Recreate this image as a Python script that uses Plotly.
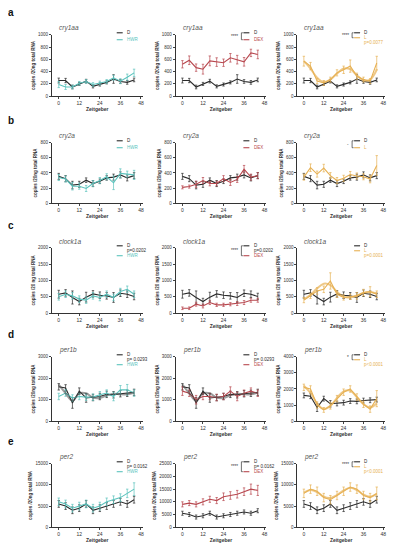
import plotly.graph_objects as go

OFF = 8  # page body margin of the browser
W, H = 395 - OFF, 550 - OFF
T = [0, 4, 8, 12, 16, 20, 24, 28, 32, 36, 40, 44]
X_TICKS = [0, 12, 24, 36, 48]
GENES = ["cry1aa", "cry2a", "clock1a", "per1b", "per2"]
ROW_LETTERS = ["a", "b", "c", "d", "e"]
Y_MAX = [[1000, 1000, 1000], [800, 800, 800], [2000, 2000, 2000], [3000, 3000, 4000], [15000, 25000, 15000]]
Y_DTICK = [[200] * 3, [200] * 3, [500] * 3, [1000] * 3, [5000] * 3]
Y_TITLES = ["copies /20ng total RNA", "copies /20ng total RNA", "copies /20 ng total RNA",
            "copies /20ng total RNA", "copies /20ng total RNA"]

# ---- data ----
CRY1AA_D = [255, 255, 150, 200, 245, 160, 190, 225, 280, 240, 225, 265]
CRY1AA_D_ERR = [40, 35, 30, 25, 30, 25, 25, 25, 70, 30, 30, 30]
CRY1AA_HWR = [190, 150, 150, 210, 240, 190, 215, 240, 300, 245, 310, 380]
CRY1AA_HWR_ERR = [50, 40, 30, 30, 30, 30, 30, 30, 40, 40, 50, 60]
CRY1AA_DEX = [520, 585, 465, 440, 575, 555, 545, 625, 595, 560, 705, 680]
CRY1AA_DEX_ERR = [60, 70, 60, 80, 80, 70, 60, 70, 70, 70, 60, 70]
CRY1AA_L = [570, 490, 245, 215, 270, 380, 430, 490, 325, 270, 245, 540]
CRY1AA_L_ERR = [80, 60, 40, 40, 40, 50, 60, 100, 50, 40, 40, 110]
CRY1AA_L_FIT = [570, 450, 300, 230, 270, 370, 450, 440, 340, 260, 270, 430]

CRY2A_D = [355, 325, 240, 250, 305, 260, 290, 335, 345, 375, 335, 365]
CRY2A_D_ERR = [40, 40, 50, 40, 30, 40, 30, 30, 40, 40, 40, 40]
CRY2A_HWR = [340, 320, 225, 225, 195, 260, 300, 350, 270, 395, 385, 375]
CRY2A_HWR_ERR = [40, 40, 50, 40, 40, 40, 40, 40, 90, 60, 40, 60]
CRY2A_DEX = [210, 220, 250, 300, 260, 260, 325, 275, 315, 450, 345, 365]
CRY2A_DEX_ERR = [20, 20, 40, 40, 30, 30, 40, 40, 40, 50, 40, 40]
CRY2A_L = [345, 470, 385, 465, 365, 300, 330, 380, 360, 350, 320, 500]
CRY2A_L_ERR = [40, 50, 40, 50, 40, 40, 40, 40, 40, 40, 50, 130]

CLOCK1A_D = [580, 620, 480, 355, 490, 590, 550, 530, 480, 610, 580, 510]
CLOCK1A_D_ERR = [120, 100, 200, 100, 150, 100, 100, 100, 150, 100, 100, 100]
CLOCK1A_HWR = [500, 580, 530, 430, 400, 530, 480, 580, 480, 660, 730, 580]
CLOCK1A_HWR_ERR = [100, 100, 100, 100, 100, 100, 100, 100, 100, 100, 100, 100]
CLOCK1A_DEX = [150, 150, 275, 220, 325, 255, 255, 275, 295, 325, 395, 395]
CLOCK1A_DEX_ERR = [40, 40, 60, 60, 60, 50, 50, 50, 60, 60, 60, 60]
CLOCK1A_L = [400, 530, 680, 730, 985, 580, 480, 500, 530, 630, 660, 580]
CLOCK1A_L_ERR = [80, 80, 100, 100, 250, 100, 80, 80, 100, 100, 150, 100]
CLOCK1A_L_FIT = [420, 560, 760, 900, 860, 650, 500, 480, 540, 620, 650, 600]

PER1B_D = [1600, 1550, 850, 1400, 1080, 1100, 1150, 1250, 1230, 1280, 1300, 1340]
PER1B_D_ERR = [150, 150, 250, 150, 200, 150, 150, 150, 150, 150, 150, 150]
PER1B_D_FIT = [1700, 1300, 950, 1300, 1300, 1100, 1080, 1200, 1280, 1250, 1250, 1320]
PER1B_HWR = [1150, 1310, 1080, 1150, 1120, 1120, 1230, 1310, 1150, 1460, 1460, 1310]
PER1B_HWR_ERR = [150, 150, 150, 150, 150, 150, 150, 150, 200, 200, 250, 150]
PER1B_DEX = [1400, 1300, 1000, 1150, 1150, 1100, 1150, 1400, 1150, 1300, 1400, 1300]
PER1B_DEX_ERR = [200, 150, 200, 150, 150, 150, 150, 200, 200, 150, 150, 150]
PER1B_L = [2100, 2000, 1000, 700, 950, 1400, 1800, 2000, 1500, 1050, 750, 1400]
PER1B_L_ERR = [200, 200, 200, 150, 200, 200, 200, 200, 200, 200, 200, 500]
PER1B_L_FIT = [2200, 1750, 1100, 750, 950, 1450, 1850, 1900, 1500, 1050, 850, 1100]

PER2_D = [5500, 5000, 4000, 4500, 5500, 4000, 4500, 5000, 5500, 6000, 5500, 6500]
PER2_D_ERR = [800, 800, 800, 800, 800, 800, 800, 800, 800, 800, 800, 800]
PER2_HWR = [6000, 5500, 4500, 5000, 5500, 4500, 5000, 6000, 6500, 7000, 8000, 9000]
PER2_HWR_ERR = [900, 900, 900, 900, 900, 900, 900, 900, 900, 900, 1000, 1500]
PER2_DEX = [9000, 9500, 9000, 10000, 11000, 10500, 12000, 12500, 13000, 14000, 15000, 14500]
PER2_DEX_ERR = [1000, 1000, 1000, 1200, 1200, 1200, 1500, 1500, 1500, 1500, 2000, 2000]
PER2_L = [8000, 9000, 8500, 7000, 6500, 7500, 8500, 9500, 9000, 7500, 7000, 8000]
PER2_L_ERR = [1000, 1000, 1000, 1000, 1000, 1000, 1000, 1000, 1000, 1000, 1000, 1500]
PER2_L_FIT = [8200, 8800, 8300, 7200, 6900, 7600, 8700, 9300, 8800, 7700, 7200, 7900]

BLACK = "#2b2b2b"
TEAL = "#5bc3bd"
RED = "#b8484f"
ORANGE = "#e7b154"
ORANGE_FIT = "rgba(231,177,84,0.7)"
BLACK_FIT = "rgba(60,60,60,0.5)"

PANELS = [
    [
        dict(series=[(CRY1AA_D, CRY1AA_D_ERR, BLACK), (CRY1AA_HWR, CRY1AA_HWR_ERR, TEAL)], fits=[],
             legend=[("D", BLACK, True), ("HWR", TEAL, True)], stars=None),
        dict(series=[(CRY1AA_D, CRY1AA_D_ERR, BLACK), (CRY1AA_DEX, CRY1AA_DEX_ERR, RED)], fits=[],
             legend=[("D", BLACK, True), ("DEX", RED, True)], stars="****"),
        dict(series=[(CRY1AA_D, CRY1AA_D_ERR, BLACK), (CRY1AA_L, CRY1AA_L_ERR, ORANGE)],
             fits=[(CRY1AA_L_FIT, ORANGE_FIT)],
             legend=[("D", BLACK, True), ("L", ORANGE, True), ("p=0.0077", ORANGE, False)], stars="****"),
    ],
    [
        dict(series=[(CRY2A_D, CRY2A_D_ERR, BLACK), (CRY2A_HWR, CRY2A_HWR_ERR, TEAL)], fits=[],
             legend=[("D", BLACK, True), ("HWR", TEAL, True)], stars=None),
        dict(series=[(CRY2A_D, CRY2A_D_ERR, BLACK), (CRY2A_DEX, CRY2A_DEX_ERR, RED)], fits=[],
             legend=[("D", BLACK, True), ("DEX", RED, True)], stars=None),
        dict(series=[(CRY2A_D, CRY2A_D_ERR, BLACK), (CRY2A_L, CRY2A_L_ERR, ORANGE)], fits=[],
             legend=[("D", BLACK, True), ("L", ORANGE, True)], stars="-"),
    ],
    [
        dict(series=[(CLOCK1A_D, CLOCK1A_D_ERR, BLACK), (CLOCK1A_HWR, CLOCK1A_HWR_ERR, TEAL)], fits=[],
             legend=[("D", BLACK, True), ("p=0.0202", BLACK, False), ("HWR", TEAL, True)], stars=None),
        dict(series=[(CLOCK1A_D, CLOCK1A_D_ERR, BLACK), (CLOCK1A_DEX, CLOCK1A_DEX_ERR, RED)], fits=[],
             legend=[("D", BLACK, True), ("p=0.0202", BLACK, False), ("DEX", RED, True)], stars="****"),
        dict(series=[(CLOCK1A_D, CLOCK1A_D_ERR, BLACK), (CLOCK1A_L, CLOCK1A_L_ERR, ORANGE)],
             fits=[(CLOCK1A_L_FIT, ORANGE_FIT)],
             legend=[("D", BLACK, True), ("L", ORANGE, True), ("p=0.0001", ORANGE, False)], stars=None),
    ],
    [
        dict(series=[(PER1B_D, PER1B_D_ERR, BLACK), (PER1B_HWR, PER1B_HWR_ERR, TEAL)],
             fits=[(PER1B_D_FIT, BLACK_FIT)],
             legend=[("D", BLACK, True), ("p= 0.0293", BLACK, False), ("HWR", TEAL, True)], stars=None),
        dict(series=[(PER1B_D, PER1B_D_ERR, BLACK), (PER1B_DEX, PER1B_DEX_ERR, RED)],
             fits=[(PER1B_D_FIT, BLACK_FIT)],
             legend=[("D", BLACK, True), ("p= 0.0293", BLACK, False), ("DEX", RED, True)], stars=None),
        dict(series=[(PER1B_D, PER1B_D_ERR, BLACK), (PER1B_L, PER1B_L_ERR, ORANGE)],
             fits=[(PER1B_L_FIT, ORANGE_FIT)],
             legend=[("D", BLACK, True), ("L", ORANGE, True), ("p<0.0001", ORANGE, False)], stars="*"),
    ],
    [
        dict(series=[(PER2_D, PER2_D_ERR, BLACK), (PER2_HWR, PER2_HWR_ERR, TEAL)], fits=[],
             legend=[("D", BLACK, True), ("p= 0.0162", BLACK, False), ("HWR", TEAL, True)], stars=None),
        dict(series=[(PER2_D, PER2_D_ERR, BLACK), (PER2_DEX, PER2_DEX_ERR, RED)], fits=[],
             legend=[("D", BLACK, True), ("p= 0.0162", BLACK, False), ("DEX", RED, True)], stars="****"),
        dict(series=[(PER2_D, PER2_D_ERR, BLACK), (PER2_L, PER2_L_ERR, ORANGE)],
             fits=[(PER2_L_FIT, ORANGE_FIT)],
             legend=[("D", BLACK, True), ("L", ORANGE, True), ("p<0.0001", ORANGE, False)], stars="****"),
    ],
]

# ---- layout geometry (screen pixels) ----
COL_X = [(52, 143), (176, 267), (298, 386)]
ROW_Y = [(33, 95), (142, 203), (248, 314), (358, 423), (466, 530)]
LEG_DX = [(65, 71, 73), (68, 74, 77), (57, 63, 65)]
X_RANGE = [-4, 49]

FONT = "Liberation Sans, Arial, sans-serif"
GRAY = "#333333"


def px(x):
    return (x - OFF) / W


def py(y):
    return 1 - (y - OFF) / H


fig = go.Figure()
layout = dict(width=W, height=H, margin=dict(l=0, r=0, t=0, b=0),
              paper_bgcolor="white", plot_bgcolor="white", showlegend=False,
              font=dict(family=FONT, color=GRAY))
annotations = []
shapes = []

for r in range(5):
    for c in range(3):
        n = r * 3 + c + 1
        xs = "x" if n == 1 else f"x{n}"
        ys = "y" if n == 1 else f"y{n}"
        x0, x1 = COL_X[c]
        y0, y1 = ROW_Y[r]
        p = PANELS[r][c]
        for vals, errs, col in p["series"]:
            fig.add_trace(go.Scatter(
                x=T, y=vals, xaxis=xs, yaxis=ys, mode="lines",
                line=dict(color=col, width=1.1),
                error_y=dict(type="data", array=errs, color=col, thickness=0.7, width=1.2),
                hoverinfo="skip"))
        for vals, col in p["fits"]:
            fig.add_trace(go.Scatter(
                x=T, y=vals, xaxis=xs, yaxis=ys, mode="lines",
                line=dict(color=col, width=2.0, shape="spline", smoothing=1.0),
                hoverinfo="skip"))
        layout["xaxis" if n == 1 else f"xaxis{n}"] = dict(
            domain=[px(x0), px(x1)], anchor=ys, range=X_RANGE,
            tickvals=X_TICKS, ticks="outside", ticklen=2, tickwidth=0.8,
            ticklabeloverflow="allow",
            showline=True, linecolor=GRAY, linewidth=0.9, showgrid=False, zeroline=False,
            tickfont=dict(size=5, family=FONT, color=GRAY),
            title=dict(text="<b>Zeitgeber</b>", font=dict(size=5, color=GRAY), standoff=1))
        ymax = Y_MAX[r][c]
        layout["yaxis" if n == 1 else f"yaxis{n}"] = dict(
            domain=[py(y1), py(y0)], anchor=xs, range=[0, ymax],
            dtick=Y_DTICK[r][c], tickformat="d", ticks="outside", ticklen=2, tickwidth=0.8,
            showline=True, linecolor=GRAY, linewidth=0.9, showgrid=False, zeroline=False,
            tickfont=dict(size=4.5, family=FONT, color=GRAY),
            title=dict(text=f"<b>{Y_TITLES[r]}</b>", font=dict(size=4.5, color=GRAY), standoff=2))
        annotations.append(dict(x=px(x0 + 5), y=py(y0 - 1), xref="paper", yref="paper",
                                text=f"<i>{GENES[r]}</i>", showarrow=False,
                                xanchor="left", yanchor="bottom",
                                font=dict(size=6.5, color="#555555", family=FONT)))
        lx1, lx2, tx = LEG_DX[c]
        entries = p["legend"]
        if len(entries) == 2:
            ypos = [y0 - 2, y0 + 5]
        else:
            ypos = [y0 - 2, y0 + 3, y0 + 8]
        line_ys = []
        for (label, col, has_line), yy in zip(entries, ypos):
            if has_line:
                shapes.append(dict(type="line", xref="paper", yref="paper",
                                   x0=px(x0 + lx1), x1=px(x0 + lx2), y0=py(yy), y1=py(yy),
                                   line=dict(color=col, width=1.1)))
                line_ys.append(yy)
            annotations.append(dict(x=px(x0 + tx), y=py(yy), xref="paper", yref="paper",
                                    text=label, showarrow=False, xanchor="left", yanchor="middle",
                                    font=dict(size=4.5, color=col, family=FONT)))
        if p["stars"]:
            ya, yb = line_ys[0], line_ys[-1]
            bx = x0 + lx1 - 2
            shapes.append(dict(type="path", xref="paper", yref="paper",
                               path=f"M {px(bx + 1.5)} {py(ya)} L {px(bx)} {py(ya)} L {px(bx)} {py(yb)} L {px(bx + 1.5)} {py(yb)}",
                               line=dict(color=GRAY, width=0.7)))
            annotations.append(dict(x=px(bx - 1), y=py((ya + yb) / 2), xref="paper", yref="paper",
                                    text=p["stars"], showarrow=False, xanchor="right", yanchor="middle",
                                    font=dict(size=4.5, color=GRAY, family=FONT)))
    annotations.append(dict(x=px(6), y=py(ROW_Y[r][0] - 22), xref="paper", yref="paper",
                            text=f"<b>{ROW_LETTERS[r]}</b>", showarrow=False,
                            xanchor="left", yanchor="middle",
                            font=dict(size=10, color="#111111", family=FONT)))

layout["annotations"] = annotations
layout["shapes"] = shapes
fig.update_layout(**layout)
fig.write_html("out.html")
